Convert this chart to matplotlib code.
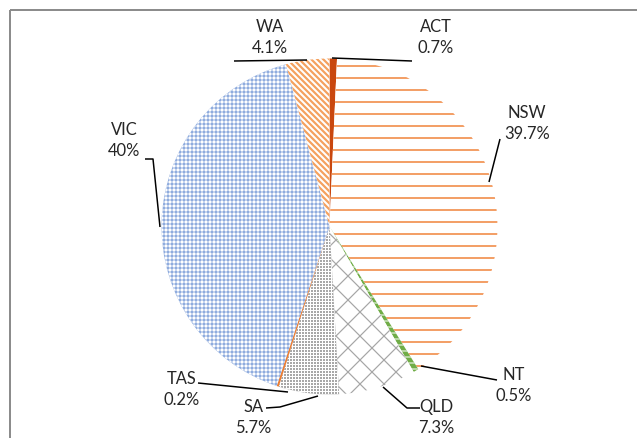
import matplotlib
matplotlib.use("Agg")
import matplotlib.pyplot as plt

# ---- data ----
states = ["ACT", "NSW", "NT", "QLD", "SA", "TAS", "VIC", "WA"]
shares = [0.7, 39.7, 0.5, 7.3, 5.7, 0.2, 40.0, 4.1]
pct_labels = ["0.7%", "39.7%", "0.5%", "7.3%", "5.7%", "0.2%", "40%", "4.1%"]

# ---- styles ----
BS = chr(92)
face_colors = ["#C9470E", "#FFFFFF", "#70AD47", "#FFFFFF", "#A8A8A8", "#ED7D31", "#8FACDE", "#FFFFFF"]
hatch_colors = ["#C9470E", "#F3A068", "#FFFFFF", "#A6A6A6", "#FFFFFF", "#ED7D31", "#FFFFFF", "#F4A15F"]
hatches = [None, "-", "--", "x", "++++", None, "+++", BS * 4]
hatch_lw = [1.0, 2.0, 1.0, 1.2, 1.0, 1.0, 1.0, 2.2]

W, H = 637, 438
DPI = 72
plt.rcParams["font.family"] = ["Lato", "DejaVu Sans"]

fig = plt.figure(figsize=(W / DPI, H / DPI), dpi=DPI)
ax = fig.add_axes([0, 0, 1, 1])

def Y(y):
    return H - y

cx, cy, r = 329.5, 226.5, 168
wedges, _ = ax.pie(shares, center=(cx, Y(cy)), radius=r, startangle=90,
                   counterclock=False, frame=True,
                   wedgeprops=dict(linewidth=0))
for w, fc, hc, h, lw in zip(wedges, face_colors, hatch_colors, hatches, hatch_lw):
    w.set_facecolor(fc)
    w.set_edgecolor(hc)
    w.set_linewidth(0)
    if h:
        if hasattr(w, "set_hatch_linewidth"):
            w.set_hatch_linewidth(lw)
        w.set_hatch(h)

ax.set_xlim(0, W)
ax.set_ylim(0, H)
ax.set_aspect("auto")
ax.axis("off")

# chart frame (top and left edges visible)
ax.plot([10, W], [Y(10), Y(10)], color="#8C8C8C", lw=2, solid_capstyle="butt")
ax.plot([10, 10], [Y(10), Y(H)], color="#8C8C8C", lw=2, solid_capstyle="butt")

# leader lines (pixel coordinates)
leaders = {
    "WA": [(234, 61), (307, 60)],
    "ACT": [(332, 58), (412, 61)],
    "NSW": [(489, 182), (500, 139)],
    "NT": [(421, 366), (497, 380)],
    "QLD": [(383, 387), (407, 408), (420, 408)],
    "SA": [(266, 408), (280, 407), (318, 396)],
    "TAS": [(198, 383), (288, 392)],
    "VIC": [(145, 159), (153, 159), (160, 227)],
}
for pts in leaders.values():
    xs = [p[0] for p in pts]
    ys = [Y(p[1]) for p in pts]
    ax.plot(xs, ys, color="black", lw=1.5, solid_capstyle="butt")

label_pos = {
    "ACT": (436, 27),
    "NSW": (527, 113),
    "NT": (514, 375),
    "QLD": (436, 407),
    "SA": (253, 407),
    "TAS": (182, 379),
    "VIC": (124, 130),
    "WA": (270, 27),
}
for name, pct in zip(states, pct_labels):
    x, y = label_pos[name]
    ax.text(x, Y(y), name, ha="center", va="center", fontsize=16.5, color="#262626")
    ax.text(x, Y(y + 21), pct, ha="center", va="center", fontsize=16.5, color="#262626")

fig.savefig("out.png", dpi=DPI, facecolor="white")
